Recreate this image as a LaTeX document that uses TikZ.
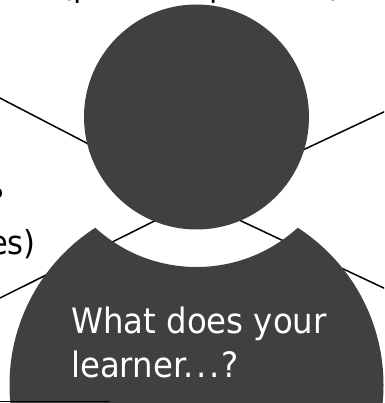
\documentclass[tikz,border=0pt]{standalone}
\usepackage{fontspec}
\setmainfont[FakeStretch=0.925]{DejaVu Sans}
\definecolor{figgray}{HTML}{404040}
\begin{document}
\begin{tikzpicture}[x=1pt,y=-1pt,
  conn/.style={line width=1.5pt, black},
  shapefill/.style={fill=figgray, draw=none},
  bigtext/.style={font=\fontsize{35}{42}\selectfont, inner sep=0pt},
  sidetext/.style={font=\fontsize{33}{40}\selectfont, inner sep=0pt, text=black}]
\useasboundingbox (0,0) rectangle (384,403);
\clip (0,0) rectangle (384,403);
% connectors (behind the figure)
\coordinate (hub) at (196.5,200);
\coordinate (endtl) at (-4,96);
\coordinate (endtr) at (388,110);
\coordinate (endbl) at (-4,300);
\coordinate (endbr) at (388,290);
\draw[conn] (hub) -- (endtl);
\draw[conn] (hub) -- (endtr);
\draw[conn] (hub) -- (endbl);
\draw[conn] (hub) -- (endbr);
% body
\begin{scope}
  \clip (196.5,385) circle (187pt);
  \fill[shapefill, even odd rule] (-10,-10) rectangle (400,420) (196.5,117) circle (150pt);
\end{scope}
% head
\node[circle, shapefill, minimum size=225pt, inner sep=0pt] (head) at (196.5,117) {};
% text in body
\node[bigtext, text=white, anchor=base west] (q1) at (71,333) {What does your};
\node[bigtext, text=white, anchor=base west] (q2) at (71,377) {learner.\kern2.5pt.\kern2.5pt.\kern2.5pt?};
% cut-off texts
\node[sidetext, anchor=base east] (lq) at (5,212) {?};
\node[sidetext, anchor=base east] (les) at (36,254) {es)};
\node[sidetext, anchor=base west] (tp1) at (61,-3.5) {(p};
\node[sidetext, anchor=base west] (tp2) at (209,-3.5) {p};
\node[sidetext, anchor=base west] (tp3) at (329,-3.5) {)};
% bottom edge line
\coordinate (bl0) at (0,401.5);
\coordinate (bl1) at (110,401.5);
\draw[line width=1pt] (bl0) -- (bl1);
\end{tikzpicture}
\end{document}
